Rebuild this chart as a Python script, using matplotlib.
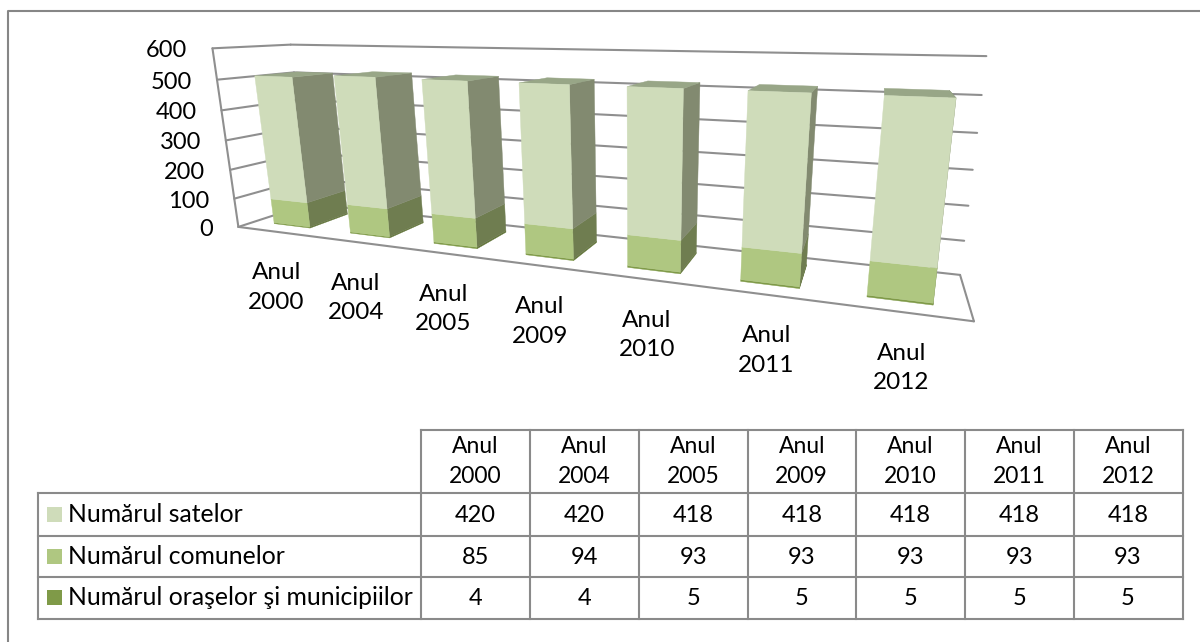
import numpy as np
import matplotlib
matplotlib.use("Agg")
import matplotlib.pyplot as plt

plt.rcParams['font.family'] = ['Lato', 'DejaVu Sans']

# ---- data -------------------------------------------------------------
years = ["Anul\n2000", "Anul\n2004", "Anul\n2005", "Anul\n2009", "Anul\n2010", "Anul\n2011", "Anul\n2012"]
sate = [420, 420, 418, 418, 418, 418, 418]
comune = [85, 94, 93, 93, 93, 93, 93]
orase = [4, 4, 5, 5, 5, 5, 5]
series_names = ["Numărul satelor", "Numărul comunelor", "Numărul oraşelor şi municipiilor"]
value_ticks = [0, 100, 200, 300, 400, 500, 600]

# ---- perspective camera: (category, value, depth) -> pixels -----------
CAL = [
    (0, 0, 0, 237.3, 228.3), (0, 600, 0, 211, 49), (0, 600, 1, 290, 44),
    (7, 600, 1, 986.7, 58.3), (7, 0, 1, 960, 275), (7, 0, 0, 973.3, 323.3),
    (0, 500, 0, 216.7, 80), (7, 500, 1, 981.7, 96.7), (7, 300, 1, 972.7, 170.3),
    (7, 100, 1, 964.3, 241), (0, 0, 1, 309, 202),
    (0.26, 0, 0.22, 273.3, 223.3), (0.74, 0, 0.22, 312.7, 228.3),
    (6.26, 0, 0.22, 865, 296), (6.74, 0, 0.22, 935, 305),
    (6.26, 503, 0.22, 881.7, 97.7), (6.74, 503, 0.22, 956.7, 100),
    (0.26, 509, 0.22, 255, 76.7), (0.74, 509, 0.22, 295, 77.3),
]
A, B = [], []
for x, y, z, u, v in CAL:
    y = y / 100.0
    A.append([x, y, z, 1, 0, 0, 0, 0, -u * x, -u * y, -u * z]); B.append(u)
    A.append([0, 0, 0, 0, x, y, z, 1, -v * x, -v * y, -v * z]); B.append(v)
P = np.append(np.linalg.lstsq(np.array(A), np.array(B), rcond=None)[0], 1).reshape(3, 4)


def proj(x, y, z):
    h = P @ np.array([x, y / 100.0, z, 1.0])
    return h[0] / h[2], h[1] / h[2]


fig = plt.figure(figsize=(12, 6.42), dpi=100)
ax = fig.add_axes([0, 0, 1, 1])
ax.set_xlim(0, 1200)
ax.set_ylim(642, 0)
ax.axis('off')

GRID = '#8f8f8f'


def seg(a, b, lw=1.5, color=GRID):
    pa, pb = proj(*a), proj(*b)
    ax.plot([pa[0], pb[0]], [pa[1], pb[1]], color=color, lw=lw, solid_capstyle='round', zorder=1)


# outer chart frame
ax.plot([8, 8, 1200], [642, 11, 11], color='#868686', lw=1.5, zorder=1)

# walls and floor
n = len(years)
seg((0, 600, 0), (0, 0, 0))
seg((0, 0, 0), (n, 0, 0))
seg((n, 0, 0), (n, 0, 1))
for t in value_ticks:
    seg((0, t, 0), (0, t, 1))
    seg((0, t, 1), (n, t, 1))
    px, py = proj(0, t, 0)
    ax.text(px - 25, py + 2.5, str(t), ha='right', va='center', fontsize=17, color='black')

# stacked 3D columns
FRONT = ['#7f9a48', '#afc781', '#cfdcba']
SIDE = ['#5f7236', '#6f7d50', '#828a70']
TOP = ['#7f9a48', '#8d9a72', '#98a687']
W0, W1 = 0.26, 0.74
Z0, Z1 = 0.22, 0.78
for i in range(n):
    base = 0
    x0, x1 = i + W0, i + W1
    for k, vals in enumerate([orase, comune, sate]):
        b, t = base, base + vals[i]
        base = t
        faces = [
            ([(x1, b, Z0), (x1, b, Z1), (x1, t, Z1), (x1, t, Z0)], SIDE[k]),
            ([(x0, b, Z0), (x1, b, Z0), (x1, t, Z0), (x0, t, Z0)], FRONT[k]),
        ]
        if k == 2:
            faces.insert(1, ([(x0, t, Z0), (x1, t, Z0), (x1, t, Z1), (x0, t, Z1)], TOP[k]))
        for pts, c in faces:
            q = np.array([proj(*p) for p in pts])
            ax.fill(q[:, 0], q[:, 1], color=c, lw=0.3, zorder=3 + i)

# category labels
for i, lab in enumerate(years):
    px, py = proj(i + 0.5, 0, 0)
    ax.text(px + 1, py + 56, lab, ha='center', va='center', fontsize=17.5,
            linespacing=1.5, color='black', zorder=20)

# data table
col_edges = [421, 530, 639, 747.5, 856, 965, 1073.5, 1182.5]
row_edges = [430, 493, 536, 577, 618.5]
LEFT = 38
BORDER = '#8a8a8a'
for xe in col_edges:
    ax.plot([xe, xe], [row_edges[0], row_edges[-1]], color=BORDER, lw=1.5, zorder=5)
ax.plot([LEFT, LEFT], [row_edges[1], row_edges[-1]], color=BORDER, lw=1.5, zorder=5)
ax.plot([col_edges[0], col_edges[-1]], [row_edges[0]] * 2, color=BORDER, lw=1.5, zorder=5)
for ye in row_edges[1:]:
    ax.plot([LEFT, col_edges[-1]], [ye, ye], color=BORDER, lw=1.5, zorder=5)

rows = [sate, comune, orase]
legend_cols = [FRONT[2], FRONT[1], FRONT[0]]
for j in range(n):
    cx = (col_edges[j] + col_edges[j + 1]) / 2
    ax.text(cx, (row_edges[0] + row_edges[1]) / 2, years[j], ha='center', va='center', fontsize=16.5,
            linespacing=1.5, color='black')
    for r in range(3):
        ax.text(cx, (row_edges[r + 1] + row_edges[r + 2]) / 2 + 0.5, str(rows[r][j]), ha='center', va='center',
                fontsize=17, color='black')
for r in range(3):
    cy = (row_edges[r + 1] + row_edges[r + 2]) / 2
    ax.fill([47, 62, 62, 47], [cy - 7.5, cy - 7.5, cy + 7.5, cy + 7.5], color=legend_cols[r], lw=0)
    ax.text(68.5, cy - 0.5, series_names[r], ha='left', va='center', fontsize=17.8, color='black')

fig.savefig('out.png', dpi=100, facecolor='white')
